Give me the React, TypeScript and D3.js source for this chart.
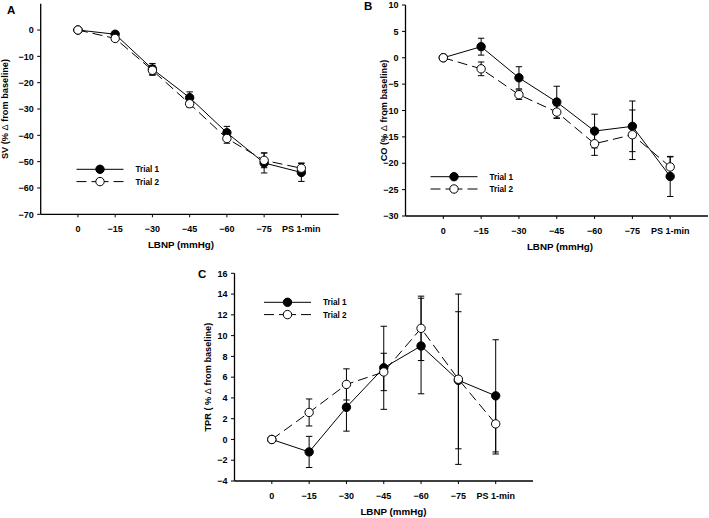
import React from "react";
import * as d3 from "d3";

const categories = ["0", "\u221215", "\u221230", "\u221245", "\u221260", "\u221275", "PS 1-min"];

// Panel A: SV
const svTrial1 = [0, -1.6, -14.8, -25.7, -39.0, -50.5, -54.1];
const svTrial1Err = [0, 0.9, 2.1, 2.2, 2.4, 3.8, 3.4];
const svTrial2 = [0, -3.2, -15.3, -28.0, -41.2, -49.5, -52.5];
const svTrial2Err = [0, 0.8, 1.9, 1.3, 1.8, 2.8, 2.0];
const svTicks = [0, -10, -20, -30, -40, -50, -60, -70];

// Panel B: CO
const coTrial1 = [0, 2.1, -3.8, -8.4, -13.9, -13.0, -22.5];
const coTrial1Err = [0, 1.6, 2.1, 3.0, 3.2, 4.8, 3.8];
const coTrial2 = [0, -2.1, -7.0, -10.3, -16.3, -14.6, -20.7];
const coTrial2Err = [0, 1.3, 0.9, 1.2, 2.2, 4.7, 1.9];
const coTicks = [10, 5, 0, -5, -10, -15, -20, -25, -30];

// Panel C: TPR
const tprTrial1 = [0, -1.2, 3.1, 6.9, 9.0, 5.7, 4.2];
const tprTrial1Err = [0, 1.5, 2.3, 4.0, 4.6, 6.6, 5.4];
const tprTrial2 = [0, 2.6, 5.3, 6.5, 10.7, 5.8, 1.5];
const tprTrial2Err = [0, 1.3, 1.5, 1.8, 3.1, 8.2, 2.9];
const tprTicks = [16, 14, 12, 10, 8, 6, 4, 2, 0, -2, -4];

const seriesNames = ["Trial 1", "Trial 2"];
const xTitle = "LBNP (mmHg)";

const FONT = "'Liberation Sans', Arial, sans-serif";
const fmt = (v: number) => (v < 0 ? "\u2212" + Math.abs(v) : String(v));

type PanelProps = {
  letter: string;
  yPrefix: string;
  t1: number[];
  e1: number[];
  t2: number[];
  e2: number[];
  ticks: number[];
  yDomain: [number, number];
  x0: number;
  x1: number;
  y0: number;
  y1: number;
  letterPos: [number, number];
  yLabelX: number;
  xTitleX: number;
  legend: [number, number];
};

function Panel(p: PanelProps) {
  const x = d3.scaleLinear().domain([-1, 7]).range([p.x0, p.x1]);
  const y = d3.scaleLinear().domain(p.yDomain).range([p.y1, p.y0]);
  const idx = categories.map((_, i) => i);
  const line = d3
    .line<number>()
    .x((_, i) => x(i))
    .y((d) => y(d));
  const r = 4.2;
  const cap = 3.2;
  const errBars = (vals: number[], errs: number[]) =>
    vals.map((v, i) =>
      errs[i] > 0 ? (
        <g key={i} stroke="#000" strokeWidth={1}>
          <line x1={x(i)} x2={x(i)} y1={y(v + errs[i])} y2={y(v - errs[i])} />
          <line x1={x(i) - cap} x2={x(i) + cap} y1={y(v + errs[i])} y2={y(v + errs[i])} />
          <line x1={x(i) - cap} x2={x(i) + cap} y1={y(v - errs[i])} y2={y(v - errs[i])} />
        </g>
      ) : null
    );
  const yMid = (p.y0 + p.y1) / 2;
  const [lx, ly] = p.legend;
  return (
    <g fontFamily={FONT} fontWeight="bold">
      <text x={p.letterPos[0]} y={p.letterPos[1]} fontSize={11.5}>
        {p.letter}
      </text>
      {/* axes */}
      <line x1={p.x0} x2={p.x0} y1={p.y0} y2={p.y1} stroke="#000" strokeWidth={1.3} />
      <line x1={p.x0} x2={p.x1} y1={p.y1} y2={p.y1} stroke="#000" strokeWidth={1.3} />
      {p.ticks.map((t) => (
        <g key={t}>
          <line x1={p.x0 - 3.5} x2={p.x0} y1={y(t)} y2={y(t)} stroke="#000" strokeWidth={1} />
          <text x={p.x0 - 7} y={y(t) + 3.2} fontSize={9} textAnchor="end">
            {fmt(t)}
          </text>
        </g>
      ))}
      {idx.map((i) => (
        <g key={i}>
          <line x1={x(i)} x2={x(i)} y1={p.y1} y2={p.y1 + 3} stroke="#000" strokeWidth={1} />
          <text x={x(i)} y={p.y1 + 17.5} fontSize={9} textAnchor="middle">
            {categories[i]}
          </text>
        </g>
      ))}
      <text x={p.xTitleX} y={p.y1 + 34} fontSize={9.8} textAnchor="middle">
        {xTitle}
      </text>
      <text
        transform={`translate(${p.yLabelX},${yMid}) rotate(-90)`}
        fontSize={9.2}
        textAnchor="middle"
      >
        {p.yPrefix}
        <tspan fontWeight="normal">{"\u0394"}</tspan>
        {" from baseline)"}
      </text>
      {/* lines */}
      <path d={line(p.t1) || ""} fill="none" stroke="#000" strokeWidth={1} />
      <path d={line(p.t2) || ""} fill="none" stroke="#000" strokeWidth={1} strokeDasharray="10,5" />
      {errBars(p.t1, p.e1)}
      {errBars(p.t2, p.e2)}
      {p.t1.map((v, i) => (
        <circle key={"a" + i} cx={x(i)} cy={y(v)} r={r} fill="#000" stroke="#000" />
      ))}
      {p.t2.map((v, i) => (
        <circle key={"b" + i} cx={x(i)} cy={y(v)} r={r} fill="#fff" stroke="#000" />
      ))}
      {/* legend */}
      <line x1={lx} x2={lx + 47} y1={ly} y2={ly} stroke="#000" strokeWidth={1} />
      <circle cx={lx + 23.5} cy={ly} r={r} fill="#000" stroke="#000" />
      <line
        x1={lx}
        x2={lx + 47}
        y1={ly + 12.3}
        y2={ly + 12.3}
        stroke="#000"
        strokeWidth={1}
        strokeDasharray="10,5,17,5,10"
      />
      <circle cx={lx + 23.5} cy={ly + 12.3} r={r} fill="#fff" stroke="#000" />
      <text x={lx + 59} y={ly + 3} fontSize={8.2}>
        {seriesNames[0]}
      </text>
      <text x={lx + 59} y={ly + 15.3} fontSize={8.2}>
        {seriesNames[1]}
      </text>
    </g>
  );
}

export default function App() {
  return (
    <svg
      width={709}
      height={518}
      style={{ position: "absolute", left: 0, top: 0, background: "#fff" }}
    >
      <rect width={709} height={518} fill="#fff" />
      <Panel
        letter="A"
        yPrefix="SV (% "
        t1={svTrial1}
        e1={svTrial1Err}
        t2={svTrial2}
        e2={svTrial2Err}
        ticks={svTicks}
        yDomain={[-70, 10]}
        x0={40.7}
        x1={338.6}
        y0={3.7}
        y1={214.3}
        letterPos={[7, 13.5]}
        yLabelX={8}
        xTitleX={181}
        legend={[76.5, 169.3]}
      />
      <Panel
        letter="B"
        yPrefix="CO (% "
        t1={coTrial1}
        e1={coTrial1Err}
        t2={coTrial2}
        e2={coTrial2Err}
        ticks={coTicks}
        yDomain={[-30, 10]}
        x0={405.5}
        x1={708}
        y0={5}
        y1={216}
        letterPos={[364, 10]}
        yLabelX={387}
        xTitleX={560}
        legend={[430.5, 176.7]}
      />
      <Panel
        letter="C"
        yPrefix="TPR ( % "
        t1={tprTrial1}
        e1={tprTrial1Err}
        t2={tprTrial2}
        e2={tprTrial2Err}
        ticks={tprTicks}
        yDomain={[-4, 16]}
        x0={234.5}
        x1={533}
        y0={273.3}
        y1={481}
        letterPos={[198, 278]}
        yLabelX={211}
        xTitleX={393.5}
        legend={[264, 302.3]}
      />
    </svg>
  );
}
